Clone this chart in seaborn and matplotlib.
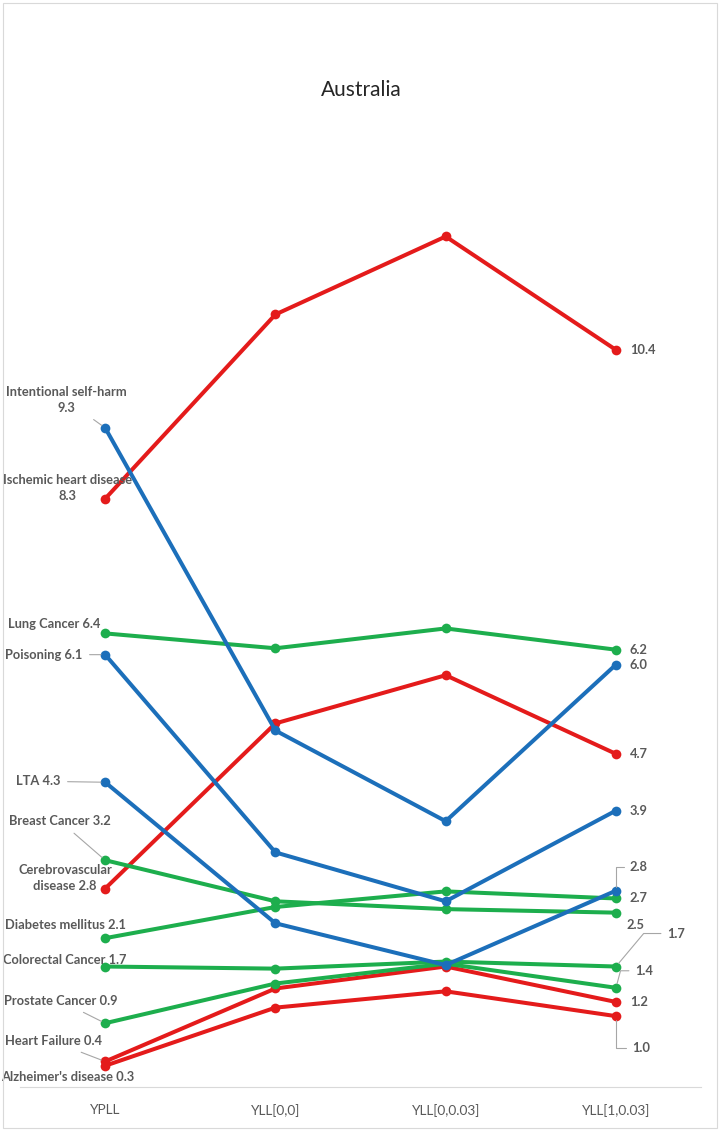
import seaborn as sns
import matplotlib.pyplot as plt
from matplotlib.patches import Rectangle
import pandas as pd

# data
measures = ["YPLL", "YLL[0,0]", "YLL[0,0.03]", "YLL[1,0.03]"]
causes = ["Intentional self-harm", "Ischemic heart disease", "Lung Cancer", "Poisoning",
          "LTA", "Breast Cancer", "Cerebrovascular disease", "Diabetes mellitus",
          "Colorectal Cancer", "Prostate Cancer", "Heart Failure", "Alzheimer's disease"]
groups = ["injury", "circulatory", "cancer", "injury",
          "injury", "cancer", "circulatory", "cancer",
          "cancer", "cancer", "circulatory", "circulatory"]
ypll = [9.3, 8.3, 6.4, 6.1, 4.3, 3.2, 2.8, 2.1, 1.7, 0.9, 0.36, 0.3]
yll_0_0 = [5.03, 10.9, 6.19, 3.31, 2.31, 2.62, 5.13, 2.54, 1.67, 1.46, 1.39, 1.12]
yll_0_003 = [3.75, 12.0, 6.47, 2.62, 1.72, 2.51, 5.81, 2.76, 1.77, 1.74, 1.70, 1.35]
yll_1_003 = [5.96, 10.4, 6.17, 3.9, 2.77, 2.46, 4.7, 2.66, 1.7, 1.4, 1.2, 1.0]

group_colors = {"circulatory": "#E41B1B", "injury": "#1C6FBA", "cancer": "#1DAE4D"}

rows = []
for vals, m in zip([ypll, yll_0_0, yll_0_003, yll_1_003], measures):
    for c, v in zip(causes, vals):
        rows.append({"cause": c, "measure": m, "pos": measures.index(m), "value": v})
df = pd.DataFrame(rows)
pal = {c: group_colors[g] for c, g in zip(causes, groups)}

sns.set_style("white")
plt.rcParams["font.family"] = ["Lato", "DejaVu Sans"]

fig = plt.figure(figsize=(7.23, 11.31), dpi=100)
ax = fig.add_axes([0.0277, 0.0389, 0.942, 0.846])

sns.lineplot(data=df, x="pos", y="value", hue="cause", palette=pal, hue_order=causes[::-1],
             marker="o", markersize=7, markeredgewidth=0, linewidth=2.9,
             legend=False, ax=ax)

ax.set_xlim(-0.5, 3.5)
ax.set_ylim(0.0, 13.5)
ax.set_xticks(range(len(measures)))
ax.set_xticklabels(measures, fontsize=9.8, color="#595959")
ax.tick_params(axis="x", length=0, pad=12)
ax.set_yticks([])
ax.set_xlabel("")
ax.set_ylabel("")
for s in ["top", "left", "right"]:
    ax.spines[s].set_visible(False)
ax.spines["bottom"].set_color("#D9D9D9")

fig.text(0.5, 1 - 90 / 1131, "Australia", ha="center", va="center", fontsize=15, color="#262626")

# label names with the breaks used in the chart
left_names = ["Intentional self-harm\n", "Ischemic heart disease\n", "Lung Cancer ", "Poisoning ",
              "LTA ", "Breast Cancer ", "Cerebrovascular\ndisease ", "Diabetes mellitus ",
              "Colorectal Cancer ", "Prostate Cancer ", "Heart Failure ", "Alzheimer's disease "]
# pixel offsets of the labels from their points: dx, dy, ha, leader
left_pos = [(-39, 28, "center", True), (-38, 11, "center", False), (-5, 9, "right", False),
            (-23, 0, "right", True), (-45, 1, "right", True), (-45, 39, "center", True),
            (-40, 11, "center", False), (-40, 13, "center", False), (-40, 7, "center", False),
            (-44, 22, "center", True), (-52, 20, "center", True), (-37, -11, "center", False)]
right_pos = [(14, 0, None), (14, 0, None), (14, 0, None), (14, 0, None),
             (14, 24, 90), (11, -12, None), (14, 0, None), (14, 0, None),
             (51, 33, 50), (19, 17, 75), (14, 0, None), (16, -32, 90)]
txt = dict(fontsize=9.3, fontweight="bold", color="#595959", va="center")
lead = "#A6A6A6"

for i, c in enumerate(causes):
    dx, dy, ha, has_lead = left_pos[i]
    ap = dict(arrowstyle="-", color=lead, lw=0.8, shrinkA=3, shrinkB=3) if has_lead else None
    ax.annotate(f"{left_names[i]}{ypll[i]:.1f}", xy=(0, ypll[i]), xytext=(dx, dy),
                textcoords="offset pixels", ha=ha, multialignment="center",
                linespacing=1.4, arrowprops=ap, **txt)

    dx, dy, ang = right_pos[i]
    ap = None
    if ang is not None:
        ap = dict(arrowstyle="-", color=lead, lw=0.8, shrinkA=2, shrinkB=3,
                  connectionstyle=f"angle,angleA=0,angleB={ang},rad=0")
    ax.annotate(f"{yll_1_003[i]:.1f}", xy=(3, yll_1_003[i]), xytext=(dx, dy),
                textcoords="offset pixels", ha="left", arrowprops=ap, **txt)

fig.patches.append(Rectangle((3 / 723, 3 / 1131), 714 / 723, 1125 / 1131,
                             transform=fig.transFigure, fill=False,
                             edgecolor="#D9D9D9", lw=0.8))

fig.savefig("out.png", dpi=100)
